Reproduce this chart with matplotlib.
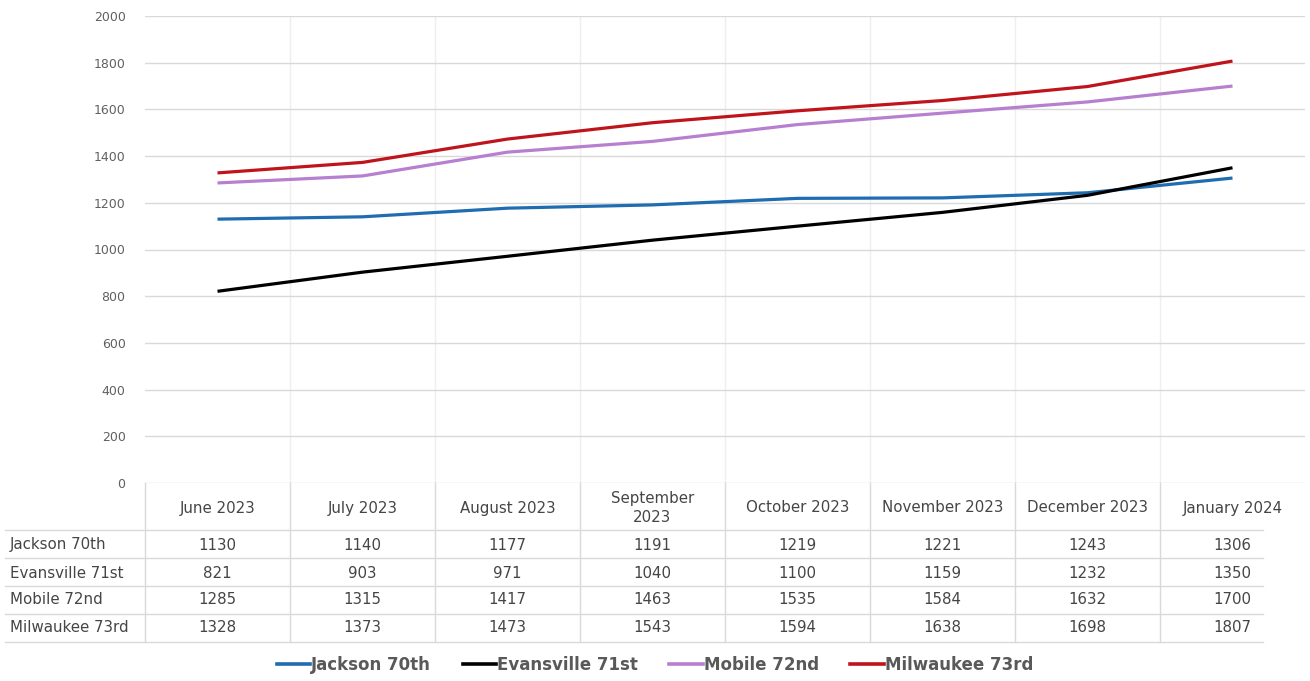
import matplotlib.pyplot as plt
import matplotlib.transforms as mtransforms
from matplotlib.lines import Line2D

months = ["June 2023", "July 2023", "August 2023", "September\n2023", "October 2023",
          "November 2023", "December 2023", "January 2024"]
jackson = [1130, 1140, 1177, 1191, 1219, 1221, 1243, 1306]
evansville = [821, 903, 971, 1040, 1100, 1159, 1232, 1350]
mobile = [1285, 1315, 1417, 1463, 1535, 1584, 1632, 1700]
milwaukee = [1328, 1373, 1473, 1543, 1594, 1638, 1698, 1807]

series_names = ["Jackson 70th", "Evansville 71st", "Mobile 72nd", "Milwaukee 73rd"]
series_values = [jackson, evansville, mobile, milwaukee]
colors = ["#1f6cb0", "#000000", "#b67fd0", "#c0141c"]

W, H = 1310, 681
fig = plt.figure(figsize=(W / 100, H / 100), dpi=100)
ax = fig.add_axes([145 / W, 1 - 483 / H, (1305 - 145) / W, (483 - 16) / H])

x = list(range(len(months)))
for vals, col in zip(series_values, colors):
    ax.plot(x, vals, color=col, lw=2.3, solid_capstyle="butt")

ax.set_xlim(-0.5, len(months) - 0.5)
ax.set_ylim(0, 2000)
ax.set_yticks(range(0, 2001, 200))
ax.tick_params(axis="y", length=0, pad=14, labelsize=9, labelcolor="#606060")
ax.set_xticks([i + 0.5 for i in range(len(months) - 1)])
ax.tick_params(axis="x", length=0, labelbottom=False)
ax.grid(axis="y", color="#d9d9d9", lw=1)
ax.grid(axis="x", color="#efefef", lw=1)
ax.set_axisbelow(True)
for s in ax.spines.values():
    s.set_visible(False)

# data table below the axes
trans = mtransforms.blended_transform_factory(ax.transData, fig.transFigure)
fy = lambda py: 1 - py / H
txt_col = "#454545"
fs = 10.8

for i, m in enumerate(months):
    ax.text(i, fy(508), m, transform=trans, ha="center", va="center",
            fontsize=fs, color=txt_col, clip_on=False, linespacing=1.4)

row_y = [545, 573, 600, 628]
for name, vals, ry in zip(series_names, series_values, row_y):
    fig.text(10 / W, fy(ry), name, ha="left", va="center", fontsize=fs, color=txt_col)
    for i, v in enumerate(vals):
        ax.text(i, fy(ry), str(v), transform=trans, ha="center", va="center",
                fontsize=fs, color=txt_col, clip_on=False)

line_col = "#d9d9d9"
for ly in [530, 558, 586, 614, 642]:
    fig.add_artist(Line2D([5 / W, 1263 / W], [fy(ly), fy(ly)], color=line_col, lw=1))
for i in range(len(months)):
    fig.add_artist(Line2D([ax.transData.transform((i - 0.5, 0))[0] / W] * 2,
                          [fy(483), fy(642)], color=line_col, lw=1))

handles = [Line2D([], [], color=c, lw=2.6) for c in colors]
fig.legend(handles, series_names, loc="center", bbox_to_anchor=(0.5, fy(665)), ncol=4,
           frameon=False, handlelength=2.0, handletextpad=0.05, columnspacing=1.9,
           prop={"weight": "bold", "size": 12}, labelcolor="#595959")

fig.savefig("out.png", dpi=100)
